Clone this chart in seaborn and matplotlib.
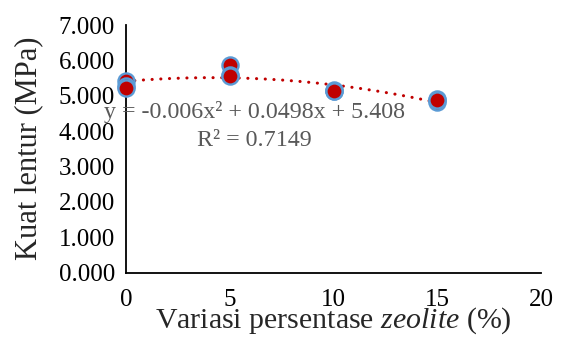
import numpy as np
import pandas as pd
import matplotlib
matplotlib.use("Agg")
import matplotlib.pyplot as plt
import seaborn as sns
from matplotlib.ticker import FormatStrFormatter

# Data
zeolite_pct = [0, 0, 0, 5, 5, 5, 10, 10, 10, 15, 15, 15]
kuat_lentur = [5.42, 5.27, 5.22, 5.87, 5.59, 5.55, 5.16, 5.12, 5.14, 4.92, 4.83, 4.88]
trend_coef = [-0.006, 0.0498, 5.408]
equation_text = "y = -0.006x\u00b2 + 0.0498x + 5.408"
r2_text = "R\u00b2 = 0.7149"
x_ticks = [0, 5, 10, 15, 20]
y_ticks = [0, 1, 2, 3, 4, 5, 6, 7]

df = pd.DataFrame({"x": zeolite_pct, "y": kuat_lentur})

sns.set_style("white")
plt.rcParams["font.family"] = ["Liberation Serif", "DejaVu Serif"]
plt.rcParams["mathtext.fontset"] = "custom"
plt.rcParams["mathtext.it"] = "Liberation Serif:italic"
plt.rcParams["mathtext.rm"] = "Liberation Serif"

W, H = 563, 341
fig = plt.figure(figsize=(W / 100, H / 100), dpi=100)
ax = fig.add_axes([126 / W, 1 - 272.5 / H, (541 - 126) / W, (272.5 - 25) / H])

xt = np.linspace(0, 15, 200)
ax.plot(xt, np.polyval(trend_coef, xt), color="#C00000", lw=2.2,
        linestyle=(0, (0.05, 2.8)), dash_capstyle="round", zorder=2,
        clip_on=False)

sns.scatterplot(data=df, x="x", y="y", ax=ax, s=135, color="#C00000",
                edgecolor="#5B9BD5", linewidth=1.7, zorder=3, legend=False,
                clip_on=False)

ax.set_xlim(0, 20)
ax.set_ylim(0, 7)
ax.set_xticks(x_ticks)
ax.set_yticks(y_ticks)
ax.yaxis.set_major_formatter(FormatStrFormatter("%.3f"))
for s in ["top", "right"]:
    ax.spines[s].set_visible(False)
for s in ["left", "bottom"]:
    ax.spines[s].set_color("black")
    ax.spines[s].set_linewidth(1.3)
ax.tick_params(axis="both", direction="out", length=5, width=1.3, colors="black",
               labelsize=18, pad=3)
ax.tick_params(axis="x", pad=7)

ax.set_xlabel("Variasi persentase $\\mathit{zeolite}$ (%)", fontsize=21.5, labelpad=-4)
ax.set_ylabel("Kuat lentur (MPa)", fontsize=22, labelpad=11)

fig.text(255 / W, 1 - 112 / H, equation_text, ha="center", va="center",
         fontsize=17.3, color="#595959")
fig.text(254 / W, 1 - 140 / H, r2_text, ha="center", va="center",
         fontsize=17.3, color="#595959")

fig.savefig("out.png", dpi=100)
